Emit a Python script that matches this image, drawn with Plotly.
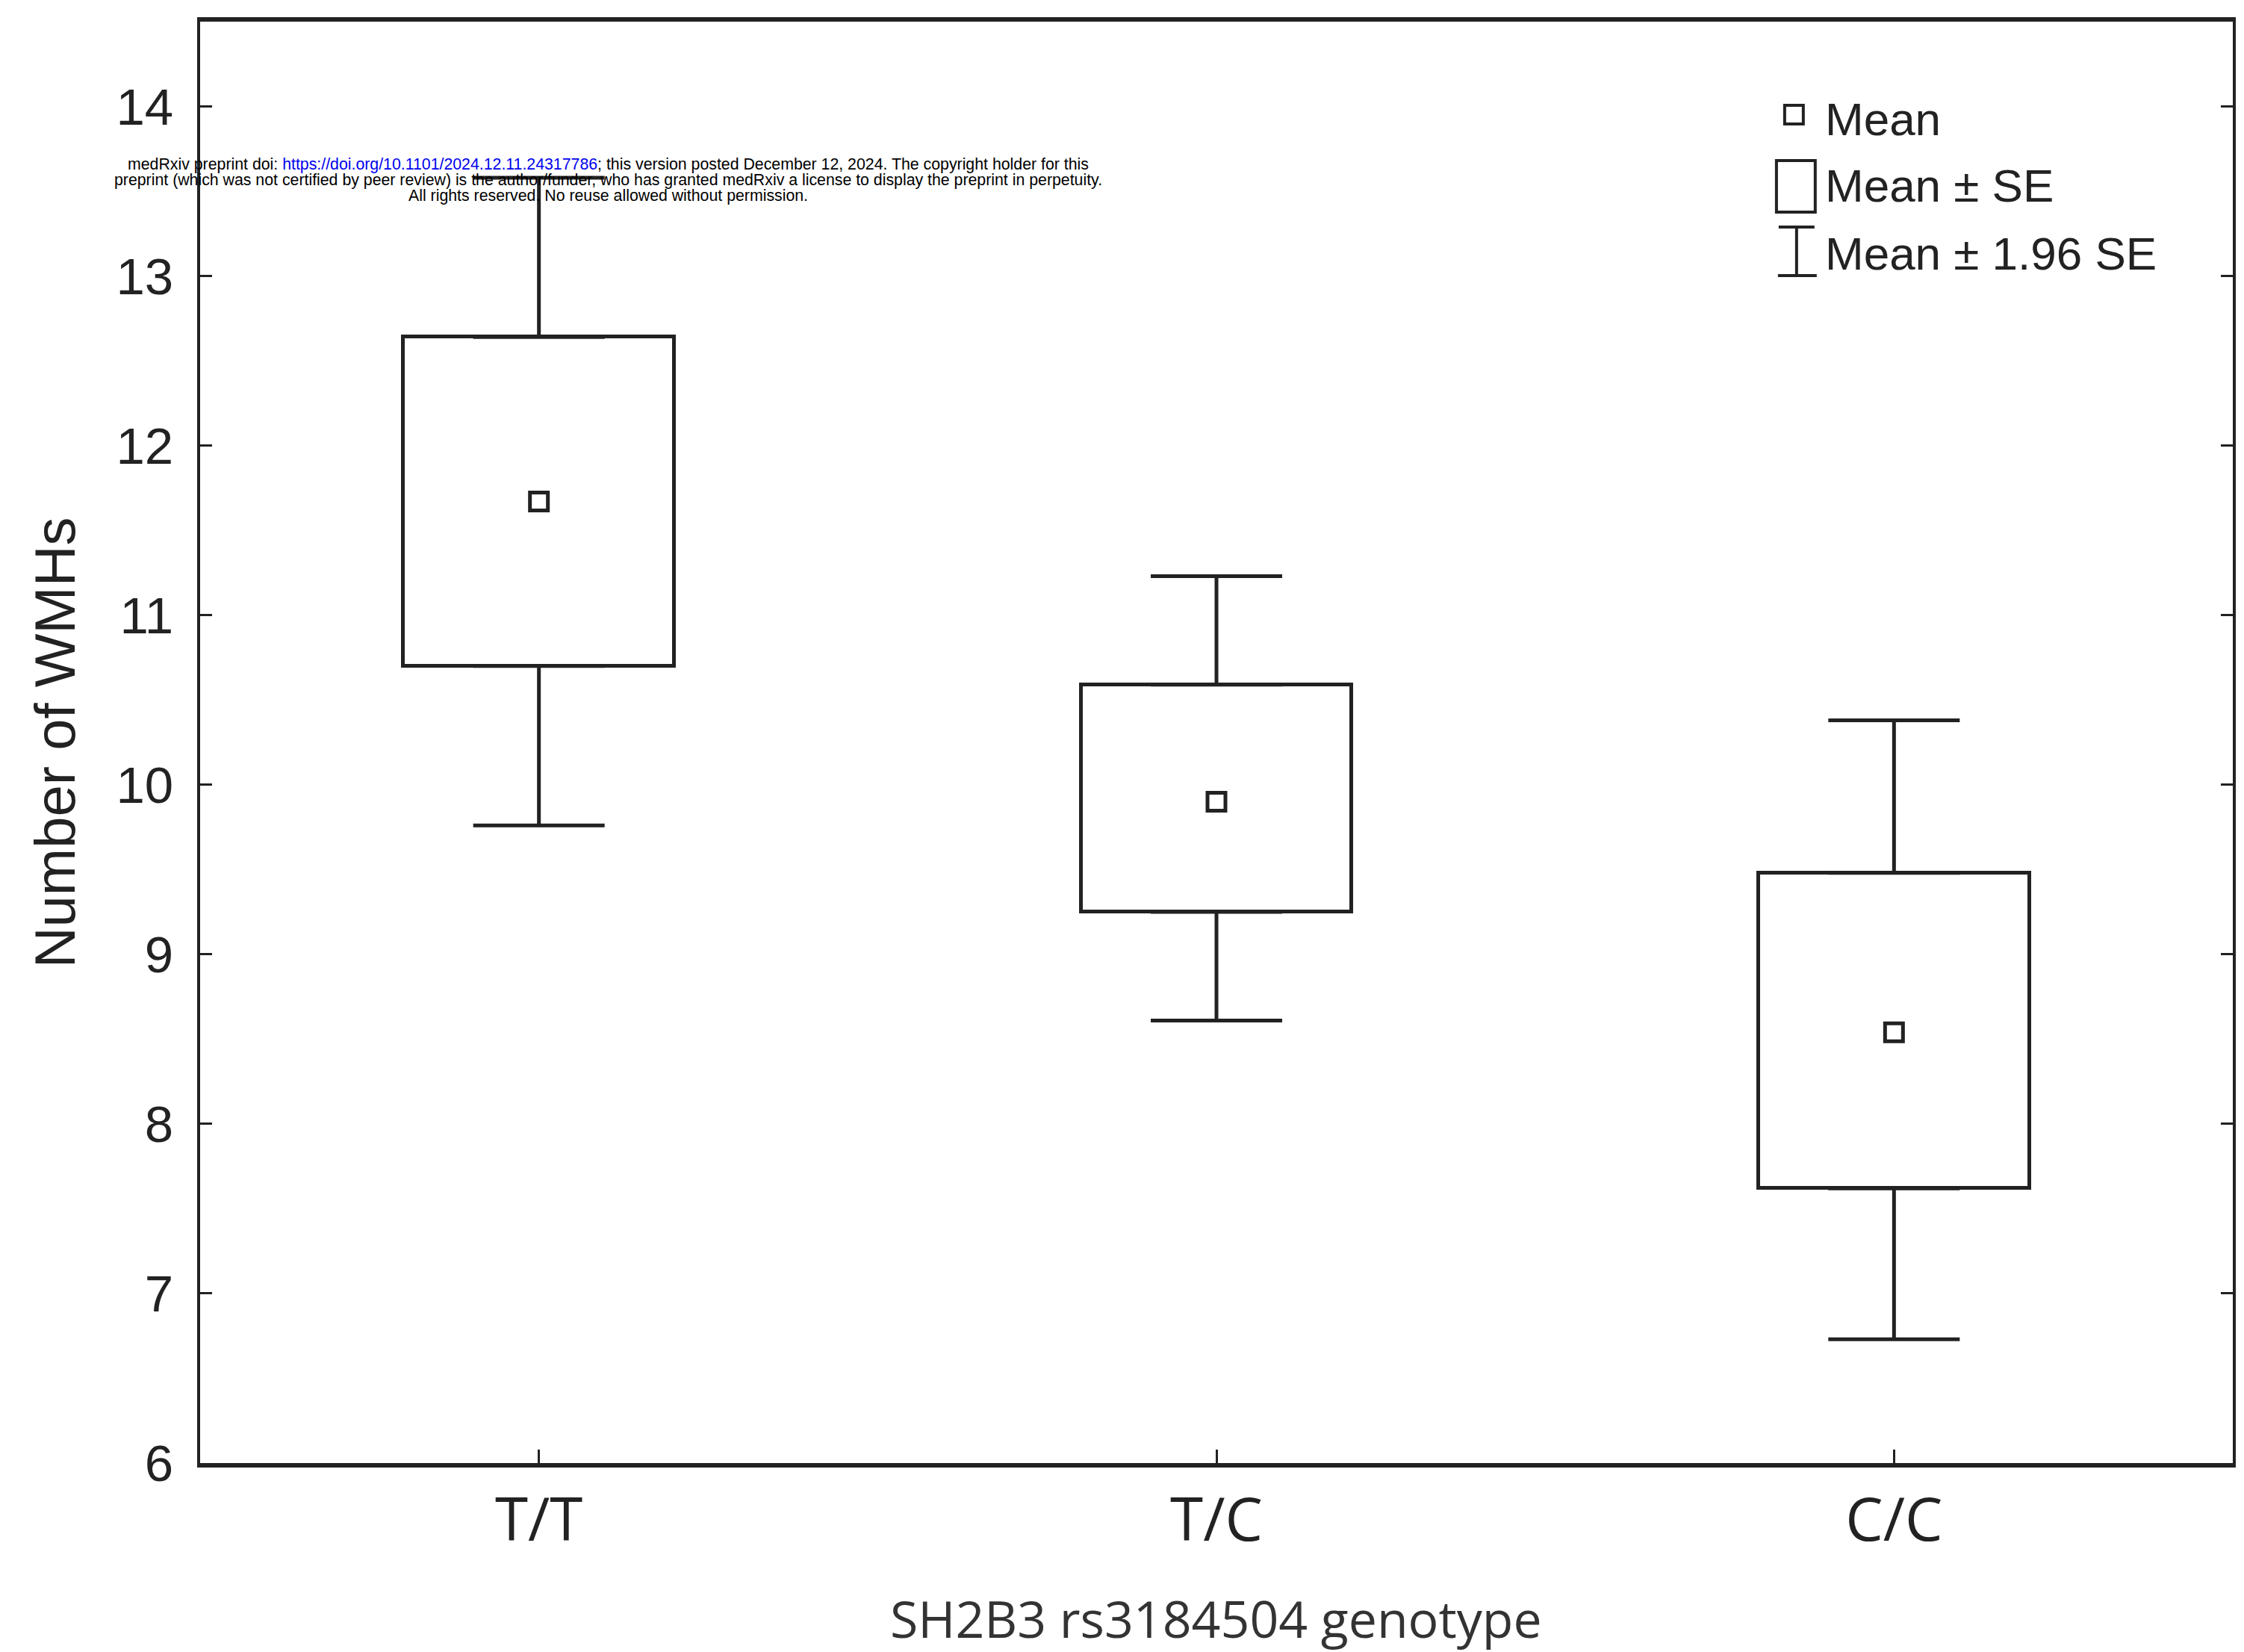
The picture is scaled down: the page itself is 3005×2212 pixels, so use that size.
import plotly.graph_objects as go

# ---- data ----
categories = ["T/T", "T/C", "C/C"]
means = [11.67, 9.90, 8.54]
se_low = [10.70, 9.25, 7.62]
se_high = [12.64, 10.59, 9.48]
ci_low = [9.76, 8.61, 6.73]
ci_high = [13.58, 11.23, 10.38]
y_ticks = [6, 7, 8, 9, 10, 11, 12, 13, 14]

INK = "#222222"
W, H = 3005, 2212
ML, MR, MT, MB = 268, 11, 29, 253
PW, PH = W - ML - MR, H - MT - MB


def px(xp):
    return (xp - ML) / PW


def py(yp):
    return (H - MB - yp) / PH


fig = go.Figure()

# Mean ± SE boxes
fig.add_trace(go.Bar(
    x=categories,
    y=[h - l for h, l in zip(se_high, se_low)],
    base=se_low,
    width=0.4,
    marker=dict(color="white", line=dict(color=INK, width=5)),
    showlegend=False,
    hoverinfo="skip",
))

# upper whiskers (Mean ± 1.96 SE)
fig.add_trace(go.Scatter(
    x=categories, y=se_high, mode="markers",
    marker=dict(size=2, opacity=0),
    error_y=dict(type="data", symmetric=False,
                 array=[h - s for h, s in zip(ci_high, se_high)],
                 arrayminus=[0, 0, 0],
                 width=88, thickness=5, color=INK),
    showlegend=False, hoverinfo="skip",
))
# lower whiskers
fig.add_trace(go.Scatter(
    x=categories, y=se_low, mode="markers",
    marker=dict(size=2, opacity=0),
    error_y=dict(type="data", symmetric=False,
                 array=[0, 0, 0],
                 arrayminus=[s - l for s, l in zip(se_low, ci_low)],
                 width=88, thickness=5, color=INK),
    showlegend=False, hoverinfo="skip",
))

# Means
fig.add_trace(go.Scatter(
    x=categories, y=means, mode="markers",
    marker=dict(symbol="square-open", size=24, color=INK,
                line=dict(width=5, color=INK)),
    showlegend=False,
))

fig.update_layout(
    width=W, height=H,
    margin=dict(l=ML, r=MR, t=MT, b=MB),
    paper_bgcolor="white", plot_bgcolor="white",
    font=dict(family="Liberation Sans, Arial, sans-serif", color=INK),
    bargap=0,
)

fig.update_xaxes(
    type="category", range=[-0.5, 2.5],
    showline=True, linecolor=INK, linewidth=6, mirror=True,
    ticks="inside", ticklen=18, tickwidth=3, tickcolor=INK,
    tickfont=dict(family="Open Sans, sans-serif", size=80, color=INK),
    ticklabelstandoff=2,
    showgrid=False, zeroline=False,
)
fig.update_yaxes(
    range=[6, 14.5], tickvals=y_ticks,
    showline=True, linecolor=INK, linewidth=4, mirror="ticks",
    ticks="inside", ticklen=16, tickwidth=3, tickcolor=INK,
    tickfont=dict(family="Liberation Sans, Arial, sans-serif", size=69, color=INK),
    ticklabelstandoff=18,
    showgrid=False, zeroline=False,
)

annotations = []
# axis titles
annotations.append(dict(
    text="Number of WMHs", textangle=-90,
    xref="paper", yref="paper", x=px(73), y=py(994),
    xanchor="center", yanchor="middle", showarrow=False,
    font=dict(family="Liberation Sans, Arial, sans-serif", size=76, color=INK),
))
annotations.append(dict(
    text="SH2B3 rs3184504 genotype",
    xref="paper", yref="paper", x=px(1630), y=py(2166),
    xanchor="center", yanchor="middle", showarrow=False,
    font=dict(family="Open Sans, sans-serif", size=68, color="#333333"),
))

# legend texts
leg_font = dict(family="Liberation Sans, Arial, sans-serif", size=62, color=INK)
for txt, yy in [("Mean", 159), ("Mean ± SE", 249), ("Mean ± 1.96 SE", 339)]:
    annotations.append(dict(
        text=txt, xref="paper", yref="paper", x=px(2445), y=py(yy),
        xanchor="left", yanchor="middle", showarrow=False, font=leg_font,
    ))

# medRxiv header
wm_font = dict(family="Liberation Sans, Arial, sans-serif", size=21.3, color="black")
wm_lines = [
    ("medRxiv preprint doi: <span style='color:#0000ee'>https://doi.org/10.1101/2024.12.11.24317786</span>; "
     "this version posted December 12, 2024. The copyright holder for this", 220),
    ("preprint (which was not certified by peer review) is the author/funder, who has granted medRxiv "
     "a license to display the preprint in perpetuity.", 241),
    ("All rights reserved. No reuse allowed without permission.", 262),
]
for txt, yy in wm_lines:
    annotations.append(dict(
        text=txt, xref="paper", yref="paper", x=px(815), y=py(yy),
        xanchor="center", yanchor="middle", showarrow=False, font=wm_font,
    ))

fig.update_layout(annotations=annotations)

# legend symbols
shapes = []
shapes.append(dict(type="rect", xref="paper", yref="paper",
                   x0=px(2393), x1=px(2418), y0=py(166), y1=py(141),
                   line=dict(color=INK, width=4), fillcolor="white"))
shapes.append(dict(type="rect", xref="paper", yref="paper",
                   x0=px(2382), x1=px(2434), y0=py(284), y1=py(215),
                   line=dict(color=INK, width=4), fillcolor="white"))
shapes.append(dict(type="line", xref="paper", yref="paper",
                   x0=px(2385), x1=px(2433), y0=py(304), y1=py(304),
                   line=dict(color=INK, width=4)))
shapes.append(dict(type="line", xref="paper", yref="paper",
                   x0=px(2384), x1=px(2436), y0=py(369), y1=py(369),
                   line=dict(color=INK, width=4)))
shapes.append(dict(type="line", xref="paper", yref="paper",
                   x0=px(2409), x1=px(2409), y0=py(304), y1=py(369),
                   line=dict(color=INK, width=4)))
fig.update_layout(shapes=shapes)

fig.write_html("out.html")
